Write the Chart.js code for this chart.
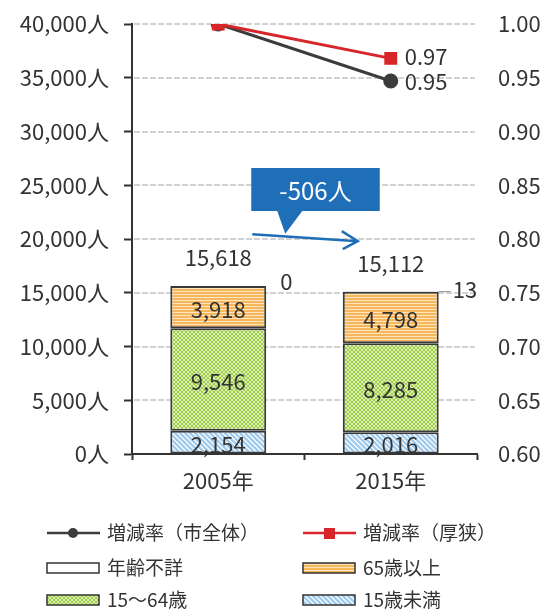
<!DOCTYPE html>
<html>
<head>
<meta charset="utf-8">
<script src="https://cdn.jsdelivr.net/npm/chart.js@4"></script>
<style>
  html, body { margin: 0; padding: 0; background: #fff; }
  canvas { display: block; }
</style>
</head>
<body>
<canvas id="Population__Canvas" width="558" height="615"></canvas>
<script>
// values
const years = ["2005年", "2015年"];
const under15 = [2154, 2016];
const age15to64 = [9546, 8285];
const over65 = [3918, 4798];
const unknownAge = [0, 13];
const rateCity = [1.0, 0.947];
const rateAsa = [1.0, 0.968];
const leftTicks = [0, 5000, 10000, 15000, 20000, 25000, 30000, 35000, 40000];

const FONT = '"Noto Sans CJK JP", "Noto Sans", sans-serif';
const TEXT = "#333";

function makePattern(kind) {
  let c = document.createElement("canvas");
  let g = c.getContext("2d");
  if (kind === "orange") {
    c.width = 4; c.height = 3;
    g.fillStyle = "#f5b65c"; g.fillRect(0, 0, 4, 3);
    g.fillStyle = "#fde6bd"; g.fillRect(0, 0, 4, 1);
  } else if (kind === "green") {
    c.width = 4; c.height = 4;
    g.fillStyle = "#9ccd45"; g.fillRect(0, 0, 4, 4);
    g.fillStyle = "#dcefb6";
    for (let i = 0; i < 4; i++) { g.fillRect(i, i, 1, 1); g.fillRect(i, 3 - i, 1, 1); }
  } else if (kind === "blue") {
    c.width = 5; c.height = 5;
    g.fillStyle = "#a3cbee"; g.fillRect(0, 0, 5, 5);
    g.fillStyle = "#eef6fd";
    for (let i = 0; i < 5; i++) { g.fillRect(i, i, 1, 1); g.fillRect(i, (i + 1) % 5, 1, 1); }
  } else {
    return "#ffffff";
  }
  return g.createPattern(c, "repeat");
}

function sum(i) {
  return under15[i] + age15to64[i] + over65[i] + unknownAge[i];
}

// light lines across the plot at each left tick
const gridPlugin = {
  id: "lightGrid",
  beforeDatasetsDraw(chart) {
    let ctx = chart.ctx;
    let area = chart.chartArea;
    let y = chart.scales.y;
    ctx.save();
    ctx.strokeStyle = "#c4c4c4";
    ctx.lineWidth = 1.5;
    ctx.setLineDash([6, 2]);
    leftTicks.forEach((v) => {
      if (v === 0) return;
      let py = Math.round(y.getPixelForValue(v));
      ctx.beginPath();
      ctx.moveTo(area.left + 2, py);
      ctx.lineTo(area.right - 2, py);
      ctx.stroke();
    });
    ctx.restore();
  },
};

// numbers on and next to the bars
const labelsPlugin = {
  id: "labels",
  afterDatasetsDraw(chart) {
    let ctx = chart.ctx;
    ctx.save();
    ctx.fillStyle = TEXT;
    ctx.font = "22px " + FONT;
    ctx.textAlign = "center";
    ctx.textBaseline = "middle";
    chart.data.datasets.forEach((ds, di) => {
      if (ds.type === "line") return;
      let meta = chart.getDatasetMeta(di);
      meta.data.forEach((bar, i) => {
        let v = ds.data[i];
        if (ds.label === "年齢不詳") {
          let right = bar.x + bar.width / 2;
          ctx.textAlign = "left";
          if (v > 0) {
            ctx.strokeStyle = "#999";
            ctx.lineWidth = 1;
            ctx.beginPath();
            ctx.moveTo(right, bar.y);
            ctx.lineTo(right + 12, bar.y);
            ctx.stroke();
            ctx.fillText(v.toLocaleString(), right + 14, bar.y - 2);
          } else {
            ctx.fillText(String(v), right + 14, bar.y - 4);
          }
          ctx.textAlign = "center";
          // total above the stack
          ctx.fillText(sum(i).toLocaleString(), bar.x, bar.y - 28);
          return;
        }
        ctx.fillText(v.toLocaleString(), bar.x, (bar.y + bar.base) / 2 + 2);
      });
    });
    // rate labels at the 2015 points
    ["増減率（厚狭）", "増減率（市全体）"].forEach((name, k) => {
      let di = chart.data.datasets.findIndex((d) => d.label === name);
      let pt = chart.getDatasetMeta(di).data[1];
      let v = chart.data.datasets[di].data[1];
      ctx.textAlign = "left";
      ctx.fillText(v.toFixed(2), pt.x + 14, k === 0 ? pt.y - 2 : pt.y + 1);
    });
    ctx.restore();
  },
};

// the "-506人" callout with its arrow
const calloutPlugin = {
  id: "callout",
  afterDatasetsDraw(chart) {
    let ctx = chart.ctx;
    let x = chart.scales.x;
    let y = chart.scales.y;
    let x0 = x.getPixelForValue(0);
    let x1 = x.getPixelForValue(1);
    let left = x0 + 33, right = x1 - 11;
    let top = y.getPixelForValue(26600), bottom = y.getPixelForValue(22600);
    let tipX = x0 + 67, tipY = y.getPixelForValue(20500);
    ctx.save();
    ctx.fillStyle = "#1e6fb8";
    ctx.beginPath();
    ctx.moveTo(left, top);
    ctx.lineTo(right, top);
    ctx.lineTo(right, bottom);
    ctx.lineTo(tipX + 17, bottom);
    ctx.lineTo(tipX, tipY);
    ctx.lineTo(tipX - 8, bottom);
    ctx.lineTo(left, bottom);
    ctx.closePath();
    ctx.fill();
    ctx.fillStyle = "#fff";
    ctx.font = "24px " + FONT;
    ctx.textAlign = "center";
    ctx.textBaseline = "middle";
    let diff = sum(1) - sum(0);
    ctx.fillText(diff.toLocaleString() + "人", (left + right) / 2, (top + bottom) / 2 + 1);
    // arrow
    let ax0 = x0 + 34, ay0 = y.getPixelForValue(20450);
    let ax1 = x1 - 33, ay1 = y.getPixelForValue(19800);
    ctx.strokeStyle = "#1e6fb8";
    ctx.lineWidth = 2.5;
    ctx.beginPath();
    ctx.moveTo(ax0, ay0);
    ctx.lineTo(ax1, ay1);
    ctx.moveTo(ax1 - 16, ay1 - 10);
    ctx.lineTo(ax1, ay1);
    ctx.lineTo(ax1 - 15, ay1 + 8);
    ctx.stroke();
    ctx.restore();
  },
};

// two column legend under the chart
const legendPlugin = {
  id: "gridLegend",
  afterDraw(chart) {
    let ctx = chart.ctx;
    let order = ["増減率（市全体）", "増減率（厚狭）", "年齢不詳", "65歳以上", "15～64歳", "15歳未満"];
    let cols = [47, 303];
    let rows = [533, 568, 600];
    ctx.save();
    ctx.font = "19px " + FONT;
    ctx.textBaseline = "middle";
    order.forEach((name, k) => {
      let ds = chart.data.datasets.find((d) => d.label === name);
      let lx = cols[k % 2];
      let ly = rows[Math.floor(k / 2)];
      if (ds.type === "line") {
        ctx.strokeStyle = ds.borderColor;
        ctx.lineWidth = 2.5;
        ctx.beginPath();
        ctx.moveTo(lx, ly);
        ctx.lineTo(lx + 53, ly);
        ctx.stroke();
        ctx.fillStyle = ds.pointBackgroundColor;
        ctx.beginPath();
        if (ds.pointStyle === "rect") {
          ctx.rect(lx + 21, ly - 5, 11, 11);
        } else {
          ctx.arc(lx + 26, ly, 5, 0, Math.PI * 2);
        }
        ctx.fill();
      } else {
        ctx.fillStyle = ds.backgroundColor;
        ctx.fillRect(lx, ly - 5, 52, 10);
        ctx.strokeStyle = "#333";
        ctx.lineWidth = 1.5;
        ctx.strokeRect(lx, ly - 5, 52, 10);
      }
      ctx.fillStyle = TEXT;
      ctx.fillText(name, lx + 60, ly);
    });
    ctx.restore();
  },
};

const barCommon = {
  type: "bar",
  yAxisID: "y",
  borderColor: "#3a3a3a",
  borderWidth: 2,
  borderSkipped: false,
  barPercentage: 0.556,
  categoryPercentage: 1,
  order: 2,
};

function noVerticalPadding(s) {
  s.paddingTop = 0;
  s.paddingBottom = 0;
}

const canvas = document.getElementById("Population__Canvas");
const chart = new Chart(canvas, {
  data: {
    labels: years,
    datasets: [
      Object.assign({}, barCommon, { label: "15歳未満", data: under15, backgroundColor: makePattern("blue") }),
      Object.assign({}, barCommon, { label: "15～64歳", data: age15to64, backgroundColor: makePattern("green") }),
      Object.assign({}, barCommon, { label: "65歳以上", data: over65, backgroundColor: makePattern("orange") }),
      Object.assign({}, barCommon, { label: "年齢不詳", data: unknownAge, backgroundColor: "#ffffff" }),
      {
        type: "line",
        label: "増減率（市全体）",
        data: rateCity,
        yAxisID: "y1",
        borderColor: "#3c3c3c",
        borderWidth: 3,
        pointStyle: "circle",
        pointRadius: 6,
        pointBackgroundColor: "#3c3c3c",
        pointBorderColor: "#3c3c3c",
        order: 1,
      },
      {
        type: "line",
        label: "増減率（厚狭）",
        data: rateAsa,
        yAxisID: "y1",
        borderColor: "#d7262a",
        borderWidth: 3,
        pointStyle: "rect",
        pointRadius: 7,
        pointBackgroundColor: "#d7262a",
        pointBorderColor: "#d7262a",
        order: 0,
      },
    ],
  },
  options: {
    responsive: false,
    animation: false,
    layout: { padding: { top: 24, left: 0, right: 0, bottom: 0 } },
    plugins: {
      legend: { display: false },
      tooltip: { enabled: false },
    },
    scales: {
      x: {
        stacked: true,
        offset: true,
        grid: { offset: true, drawOnChartArea: false, tickLength: 6, tickColor: "#333", tickWidth: 2 },
        border: { display: true, color: "#333", width: 2 },
        ticks: { color: TEXT, font: { family: FONT, size: 22 }, padding: 7 },
        afterFit(s) { s.height = 161; },
      },
      y: {
        stacked: true,
        position: "left",
        min: 0,
        max: 40000,
        afterBuildTicks(s) { s.ticks = leftTicks.map((v) => ({ value: v })); },
        ticks: {
          color: TEXT,
          font: { family: FONT, size: 22 },
          padding: 15,
          callback: (v) => v.toLocaleString() + "人",
        },
        grid: { drawOnChartArea: false, tickColor: "#333", tickLength: 8, tickWidth: 2 },
        border: { display: true, color: "#333", width: 2 },
        afterFit(s) { s.width = 132; noVerticalPadding(s); },
      },
      y1: {
        position: "right",
        min: 0.6,
        max: 1.0,
        ticks: {
          stepSize: 0.05,
          color: TEXT,
          font: { family: FONT, size: 22 },
          padding: 21,
          callback: (v) => v.toFixed(2),
        },
        grid: { drawOnChartArea: false, drawTicks: false },
        border: { display: false },
        afterFit(s) { s.width = 81; noVerticalPadding(s); },
      },
    },
  },
  plugins: [gridPlugin, labelsPlugin, calloutPlugin, legendPlugin],
});
</script>
</body>
</html>
